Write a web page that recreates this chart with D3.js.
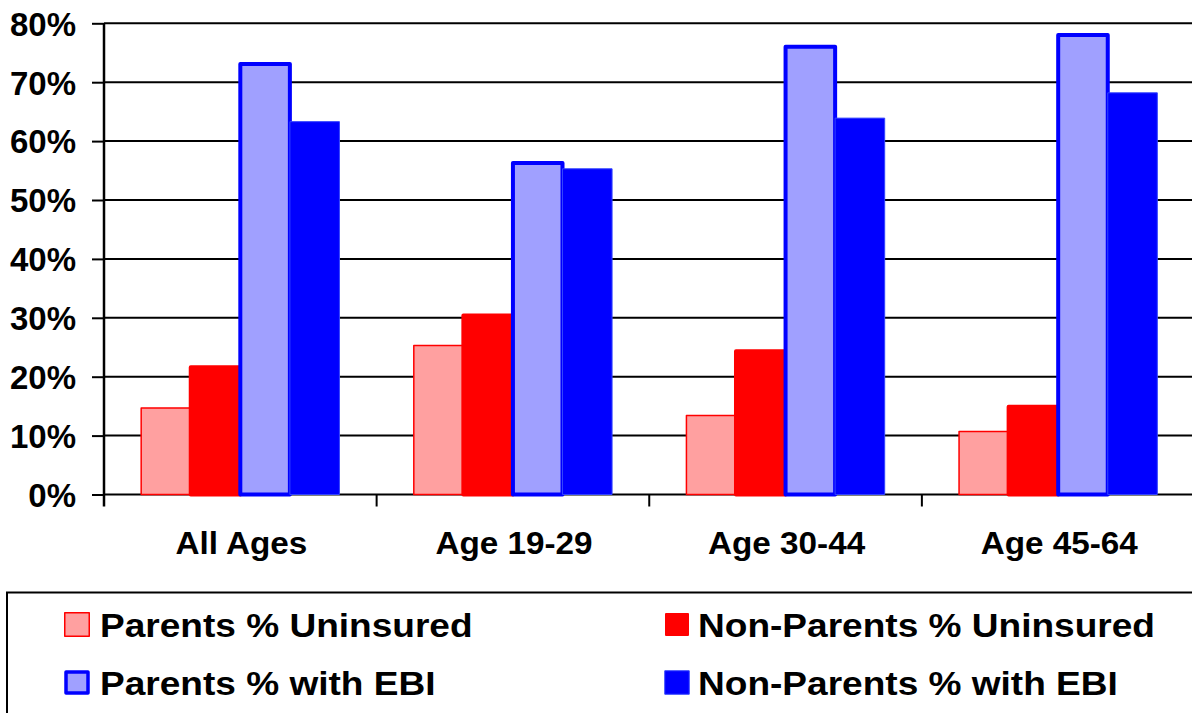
<!DOCTYPE html>
<html>
<head>
<meta charset="utf-8">
<script src="https://cdn.jsdelivr.net/npm/d3@7"></script>
<style>
  html, body { margin: 0; padding: 0; background: #fff; }
  svg { display: block; }
  text { font-family: Arial, "Liberation Sans", sans-serif; font-weight: bold; fill: #000; }
</style>
</head>
<body>
<svg id="chart" width="1192" height="713"></svg>
<script>
// Age groups along the x axis
const categories = ["All Ages", "Age 19-29", "Age 30-44", "Age 45-64"];

// Series names (legend order)
const seriesNames = [
  "Parents % Uninsured",
  "Non-Parents % Uninsured",
  "Parents % with EBI",
  "Non-Parents % with EBI"
];

// Percent values per series, one per age group
const parentsUninsured    = [14.7, 25.3, 13.4, 10.7];
const nonParentsUninsured = [21.6, 30.4, 24.3, 14.9];
const parentsEBI          = [73.1, 56.3, 76.0, 78.0];
const nonParentsEBI       = [63.3, 55.3, 63.9, 68.2];

// Y axis tick values (percent)
const yTicks = [0, 10, 20, 30, 40, 50, 60, 70, 80];

const seriesValues = [parentsUninsured, nonParentsUninsured, parentsEBI, nonParentsEBI];

// Visual style per series
const styles = [
  { fill: "#ffa0a0", stroke: "#ff0000", width: 1.5 },
  { fill: "#ff0000", stroke: "#ff0000", width: 4 },
  { fill: "#a0a0ff", stroke: "#0000ff", width: 4 },
  { fill: "#0000ff", stroke: "#3344ff", width: 1 }
];

const svg = d3.select("#chart");

const plot = { left: 104, right: 1194.5, top: 23.3, bottom: 494.5 };

const x = d3.scaleBand()
  .domain(categories)
  .range([plot.left, plot.right])
  .padding(0);

// Four bars per group with a 150% gap between groups
const xs = d3.scaleBand()
  .domain(d3.range(seriesNames.length))
  .range([0, x.bandwidth()])
  .paddingInner(0)
  .paddingOuter(0.75);

const y = d3.scaleLinear()
  .domain([0, 80])
  .range([plot.bottom, plot.top]);

// Horizontal gridlines
svg.append("g")
  .selectAll("line")
  .data(yTicks.filter(d => d > 0))
  .join("line")
  .attr("x1", plot.left)
  .attr("x2", plot.right)
  .attr("y1", d => y(d))
  .attr("y2", d => y(d))
  .attr("stroke", "#000")
  .attr("stroke-width", 2);

// Y axis
const yAxis = svg.append("g")
  .attr("transform", `translate(${plot.left},0)`)
  .call(d3.axisLeft(y).tickValues(yTicks).tickSize(12).tickPadding(16).tickFormat(d => d + "%"));
yAxis.select(".domain").attr("stroke", "#000").attr("stroke-width", 2.5)
  .attr("d", `M0,${plot.top}V${plot.bottom + 12}`);
yAxis.selectAll(".tick line").attr("stroke", "#000").attr("stroke-width", 2);
yAxis.selectAll(".tick text")
  .attr("font-size", 33)
  .attr("font-family", "Arial, 'Liberation Sans', sans-serif")
  .attr("font-weight", "bold")
  .attr("dy", "0.36em");

// X axis line and ticks at group boundaries
const xAxis = svg.append("g");
xAxis.append("line")
  .attr("x1", plot.left).attr("x2", plot.right)
  .attr("y1", plot.bottom).attr("y2", plot.bottom)
  .attr("stroke", "#000").attr("stroke-width", 2);
xAxis.selectAll("line.tick")
  .data(categories.slice(1).map(c => x(c)).concat([plot.right]))
  .join("line")
  .attr("class", "tick")
  .attr("x1", d => d).attr("x2", d => d)
  .attr("y1", plot.bottom).attr("y2", plot.bottom + 12)
  .attr("stroke", "#000").attr("stroke-width", 2);
xAxis.selectAll("text")
  .data(categories)
  .join("text")
  .attr("transform", d => `translate(${x(d) + x.bandwidth() / 2 + 1},554) scale(1.04,1)`)
  .attr("text-anchor", "middle")
  .attr("font-size", 32)
  .text(d => d);

// Bars
seriesValues.forEach((vals, si) => {
  const st = styles[si];
  svg.append("g")
    .selectAll("rect")
    .data(vals.map((v, i) => ({ cat: categories[i], v })))
    .join("rect")
    .attr("x", d => x(d.cat) + xs(si))
    .attr("width", xs.bandwidth())
    .attr("y", d => y(d.v))
    .attr("height", d => y(0) - y(d.v))
    .attr("fill", st.fill)
    .attr("stroke", st.stroke)
    .attr("stroke-width", st.width)
    .attr("stroke-linejoin", "round");
});

// Legend
const legend = svg.append("g");
legend.append("rect")
  .attr("x", 7).attr("y", 592.5)
  .attr("width", 1200).attr("height", 140)
  .attr("fill", "#fff")
  .attr("stroke", "#000").attr("stroke-width", 2);

const legendPos = [
  { sx: 64, tx: 100, row: 0 },
  { sx: 664, tx: 698, row: 0 },
  { sx: 64, tx: 100, row: 1 },
  { sx: 664, tx: 698, row: 1 }
];
const rowBase = [637, 695];

seriesNames.forEach((name, i) => {
  const p = legendPos[i];
  const st = styles[i];
  const inset = Math.max(st.width, 1.5) / 2;
  legend.append("rect")
    .attr("x", p.sx + inset)
    .attr("y", rowBase[p.row] - 25 + inset)
    .attr("width", 26 - 2 * inset)
    .attr("height", 25 - 2 * inset)
    .attr("fill", st.fill)
    .attr("stroke", st.stroke)
    .attr("stroke-width", i === 2 ? 3.5 : Math.min(st.width, 2))
    .attr("stroke-linejoin", "round");
  legend.append("text")
    .attr("transform", `translate(${p.tx},${rowBase[p.row]}) scale(1.09,1)`)
    .attr("font-size", 34)
    .text(name);
});
</script>
</body>
</html>
